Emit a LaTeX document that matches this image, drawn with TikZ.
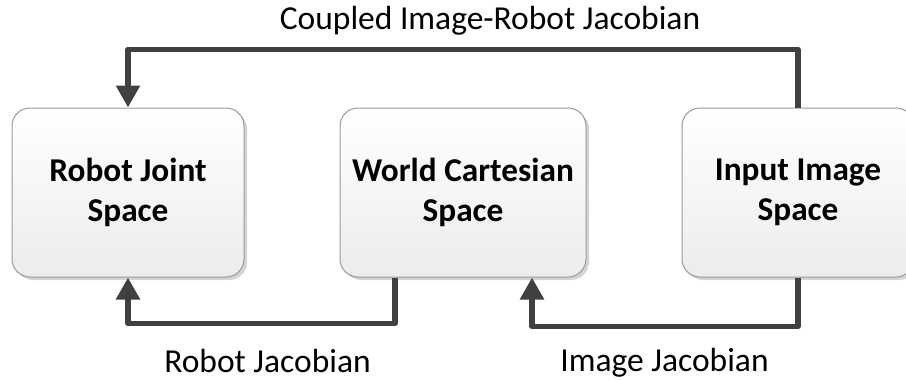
\documentclass[tikz,border=0pt]{standalone}
\usepackage{fontspec}
\setmainfont{Carlito}
\usetikzlibrary{arrows.meta,shadows,calc}

\definecolor{linkgray}{HTML}{404040}
\definecolor{edgegray}{HTML}{9A9A9A}
\definecolor{shadegray}{HTML}{D4D4D4}
\definecolor{fillbottom}{HTML}{ECECEC}

\tikzset{
  spacebox/.style={
    draw=edgegray, line width=1pt, rounded corners=18pt,
    top color=white, bottom color=fillbottom,
    minimum height=169pt, inner sep=0pt,
    align=center, font=\fontsize{33.3}{40}\selectfont\bfseries,
    drop shadow={shadow xshift=3pt, shadow yshift=-3pt, fill=shadegray, opacity=1}
  },
  link/.style={draw=linkgray, line width=5.5pt, line join=round,
    -{Triangle[width=23pt,length=22pt]}},
  caption/.style={font=\fontsize{33.5}{40}\selectfont, anchor=base, inner sep=0pt}
}

\begin{document}
\begin{tikzpicture}[x=1pt, y=-1pt]
  \useasboundingbox (0,0) rectangle (906,380);
  \clip (0,0) rectangle (906,380);

  % the three spaces
  \node[spacebox, minimum width=232pt] (joint) at (128,192.5) {Robot Joint\\Space};
  \node[spacebox, minimum width=246pt] (world) at (463,192.5) {World Cartesian\\Space};
  \node[spacebox, minimum width=232pt] (image) at (798,192.5) {Input Image\\Space};

  % mappings between them
  \draw[link] (image.north) -- ++(0,-58) -| (joint.north);
  \draw[link] ([xshift=-68pt]world.south) -- ++(0,46) -| (joint.south);
  \draw[link] (image.south) -- ++(0,49) -| ([xshift=69pt]world.south);

  % mapping names
  \node[caption] (coupled) at (490,30) {Coupled Image-Robot Jacobian};
  \node[caption] (robotjac) at (267.5,372) {Robot Jacobian};
  \node[caption] (imagejac) at (664.5,371) {Image Jacobian};
\end{tikzpicture}
\end{document}
